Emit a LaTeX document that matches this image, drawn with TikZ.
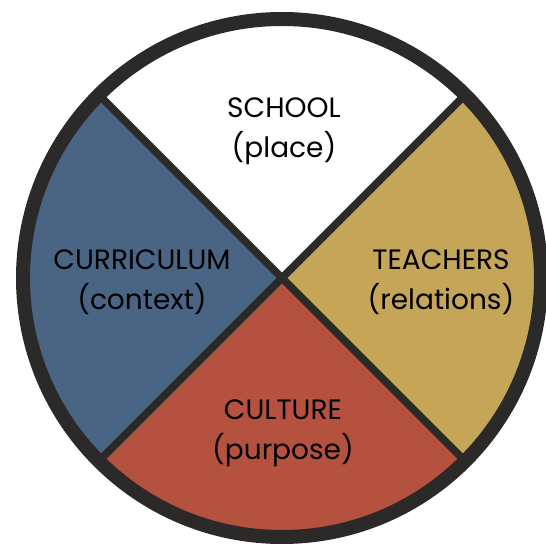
\documentclass[tikz,border=0pt]{standalone}
\usepackage{fontspec}
\setmainfont{Poppins}

\definecolor{wheelblue}{HTML}{4A6584}
\definecolor{wheelgold}{HTML}{C5A557}
\definecolor{wheelred}{HTML}{B5523F}
\definecolor{wheelrim}{HTML}{2B2A29}

\begin{document}
\begin{tikzpicture}[x=1pt,y=1pt,
    % Stil fuer die Beschriftung der Viertel
    quarter label/.style={font=\fontsize{28}{40}\selectfont, align=center, text=black},
    % Trennlinien und Aussenring
    divider/.style={draw=wheelrim, line width=7.5pt, line cap=round},
    rim/.style={draw=wheelrim, line width=14pt}
]
    \useasboundingbox (0,0) rectangle (546,550);

    % Mittelpunkt des Kreises
    \coordinate (M) at (282,272);

    % Farbige Viertel (oben bleibt weiss)
    \fill[wheelblue] (M) -- ++(135:259) arc (135:225:259) -- cycle;
    \fill[wheelred]  (M) -- ++(225:259) arc (225:315:259) -- cycle;
    \fill[wheelgold] (M) -- ++(315:259) arc (-45:45:259) -- cycle;

    % Diagonale Trennlinien
    \foreach \a in {45,135,225,315}
        \draw[divider] (M) -- ++(\a:259);

    % Aussenring
    \draw[rim] (M) circle (259);

    % Beschriftungen
    \node[quarter label] (school)     at (284,419) {SCHOOL\\(place)};
    \node[quarter label] (curriculum) at (142,268) {CURRICULUM\\(context)};
    \node[quarter label] (teachers)   at (441,268) {TEACHERS\\(relations)};
    \node[quarter label] (culture)    at (283,117) {CULTURE\\(purpose)};
\end{tikzpicture}
\end{document}
